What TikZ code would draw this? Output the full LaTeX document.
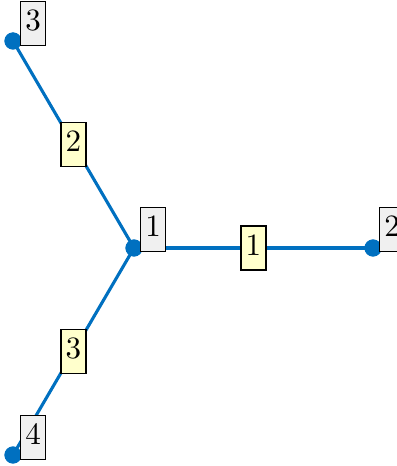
\documentclass[tikz,border=0pt]{standalone}
\usetikzlibrary{positioning}
\definecolor{edgeblue}{RGB}{0,112,192}
\definecolor{nodegray}{RGB}{240,240,240}
\definecolor{lblyellow}{RGB}{255,255,204}
\tikzset{
  vert/.style={circle,fill=edgeblue,inner sep=0pt,minimum size=5.5pt},
  edgeline/.style={draw=edgeblue,line width=1pt},
  nlabel/.style={draw=black,line width=0.4pt,fill=nodegray,inner xsep=1.5pt,inner ysep=1.1pt,anchor=south west,font=\strut},
  elabel/.style={draw=black,line width=0.4pt,fill=lblyellow,inner xsep=1.5pt,inner ysep=1.1pt,font=\strut},
}
\begin{document}
\begin{tikzpicture}[x=0.322pt,y=-0.322pt]
\useasboundingbox (0,0) rectangle (396,466);
\node[vert] (v1) at (134,248) {};
\node[vert] (v2) at (373,248) {};
\node[vert] (v3) at (13,41) {};
\node[vert] (v4) at (13,455) {};
\draw[edgeline] (v1.center) -- node[elabel] (e1) {1} (v2.center);
\draw[edgeline] (v1.center) -- node[elabel] (e2) {2} (v3.center);
\draw[edgeline] (v1.center) -- node[elabel] (e3) {3} (v4.center);
\node[vert] at (v1) {};
\node[vert] at (v2) {};
\node[vert] at (v3) {};
\node[vert] at (v4) {};
\node[nlabel] (l1) at ([xshift=6*0.322pt,yshift=-4*0.322pt]v1.center) {1};
\node[nlabel] (l2) at ([xshift=6*0.322pt,yshift=-4*0.322pt]v2.center) {2};
\node[nlabel] (l3) at ([xshift=7*0.322pt,yshift=-5*0.322pt]v3.center) {3};
\node[nlabel] (l4) at ([xshift=7*0.322pt,yshift=-5*0.322pt]v4.center) {4};
\end{tikzpicture}
\end{document}
